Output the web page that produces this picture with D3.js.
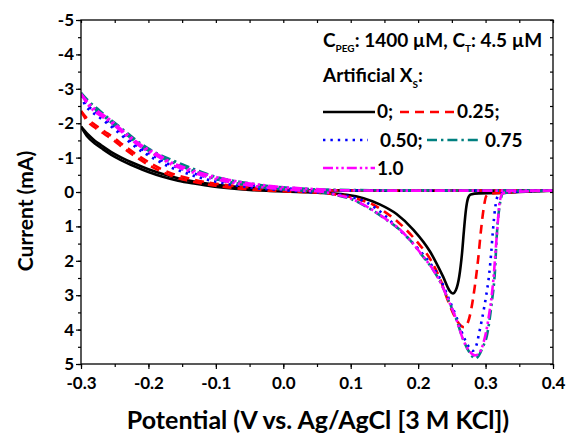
<!DOCTYPE html>
<html><head><meta charset="utf-8">
<script src="https://cdn.jsdelivr.net/npm/d3@7"></script>
<style>
body{margin:0;background:#fff;}
svg{display:block;font-family:Lato,"Open Sans",sans-serif;font-weight:700;}
</style></head>
<body><svg id="c" width="567" height="435"></svg>
<script>
// ---- data: potential (V) vs current (mA) ----
const xTicks = [-0.3,-0.2,-0.1,0.0,0.1,0.2,0.3,0.4];
const yTicks = [-5,-4,-3,-2,-1,0,1,2,3,4,5];
const seriesLabels = ["0;","0.25;","0.50;","0.75","1.0"];
const seriesColors = ["#000000","#ff0000","#0000ff","#008080","#ff00ff"];

const xs0Forward = [[-0.3,-1.90],[-0.29,-1.60],[-0.28,-1.42],[-0.27,-1.28],[-0.255,-1.08],[-0.24,-0.92],[-0.22,-0.74],[-0.2,-0.58],[-0.18,-0.45],[-0.156,-0.33],[-0.13,-0.24],[-0.107,-0.17],[-0.08,-0.11],[-0.05,-0.06],[-0.02,-0.03],[0.02,0.0],[0.05,0.02],[0.07,0.04],[0.094,0.08],[0.119,0.18],[0.143,0.36],[0.168,0.64],[0.193,1.1],[0.2176,1.73],[0.237,2.46],[0.247,2.88],[0.2515,2.95],[0.256,2.85],[0.261,2.45],[0.265,1.8],[0.268,1.1],[0.271,0.5],[0.274,0.18],[0.278,0.07],[0.29,0.04],[0.32,0.03],[0.35,0.0],[0.4,-0.04]];
const xs0Return = [[-0.3,-1.90],[-0.29,-1.68],[-0.28,-1.50],[-0.27,-1.36],[-0.255,-1.16],[-0.24,-1.00],[-0.22,-0.82],[-0.2,-0.66],[-0.18,-0.53],[-0.156,-0.40],[-0.13,-0.30],[-0.107,-0.23],[-0.08,-0.17],[-0.05,-0.12],[-0.02,-0.08],[0.02,-0.06],[0.06,-0.05],[0.15,-0.04],[0.25,-0.04],[0.4,-0.04]];

const xs25Forward = [[-0.3,-2.35],[-0.29,-2.04],[-0.28,-1.88],[-0.265,-1.68],[-0.25,-1.48],[-0.2377,-1.29],[-0.22,-1.04],[-0.2,-0.79],[-0.18,-0.59],[-0.166,-0.47],[-0.145,-0.35],[-0.1265,-0.27],[-0.1,-0.18],[-0.07,-0.11],[-0.04,-0.06],[0,-0.02],[0.04,0.01],[0.08,0.08],[0.11,0.2],[0.1335,0.37],[0.15,0.57],[0.17,0.87],[0.198,1.44],[0.22,2.02],[0.232,2.5],[0.245,3.2],[0.255,3.65],[0.263,3.88],[0.268,3.93],[0.274,3.78],[0.279,3.38],[0.284,2.75],[0.289,1.95],[0.293,1.15],[0.297,0.5],[0.301,0.12],[0.306,0.05],[0.33,0.02],[0.36,-0.02],[0.4,-0.04]];
const xs25Return = [[-0.3,-2.35],[-0.29,-2.12],[-0.28,-1.96],[-0.265,-1.76],[-0.25,-1.56],[-0.2377,-1.37],[-0.22,-1.12],[-0.2,-0.87],[-0.18,-0.66],[-0.166,-0.54],[-0.145,-0.42],[-0.1265,-0.33],[-0.1,-0.24],[-0.07,-0.17],[-0.04,-0.12],[0,-0.08],[0.05,-0.05],[0.15,-0.04],[0.4,-0.04]];

const xs50Forward = [[-0.3,-2.82],[-0.2945,-2.55],[-0.285,-2.35],[-0.272,-2.16],[-0.25,-1.82],[-0.23,-1.48],[-0.2106,-1.19],[-0.19,-0.95],[-0.171,-0.75],[-0.15,-0.59],[-0.131,-0.46],[-0.1,-0.30],[-0.07,-0.19],[-0.04,-0.11],[0,-0.05],[0.04,0.0],[0.07,0.04],[0.1,0.14],[0.125,0.32],[0.148,0.64],[0.168,1.02],[0.188,1.40],[0.205,1.76],[0.2225,2.2],[0.235,2.62],[0.245,3.08],[0.257,3.65],[0.267,4.18],[0.2745,4.48],[0.281,4.62],[0.286,4.48],[0.291,4.05],[0.2966,3.5],[0.301,3.0],[0.305,2.45],[0.308,1.85],[0.311,1.1],[0.314,0.5],[0.318,0.12],[0.324,0.03],[0.36,-0.02],[0.4,-0.04]];
const xs50Return = [[-0.3,-2.82],[-0.2945,-2.62],[-0.285,-2.42],[-0.272,-2.23],[-0.25,-1.89],[-0.23,-1.55],[-0.2106,-1.26],[-0.19,-1.02],[-0.171,-0.82],[-0.15,-0.66],[-0.131,-0.53],[-0.1,-0.37],[-0.07,-0.26],[-0.04,-0.18],[0,-0.11],[0.05,-0.06],[0.15,-0.04],[0.4,-0.04]];

const xs75Forward = [[-0.3,-2.88],[-0.2896,-2.60],[-0.275,-2.35],[-0.26,-2.10],[-0.245,-1.87],[-0.23,-1.63],[-0.21,-1.33],[-0.186,-1.05],[-0.165,-0.87],[-0.146,-0.71],[-0.125,-0.55],[-0.107,-0.42],[-0.08,-0.29],[-0.05,-0.19],[-0.02,-0.11],[0.02,-0.05],[0.05,-0.01],[0.079,0.09],[0.1,0.2],[0.119,0.38],[0.136,0.58],[0.153,0.81],[0.173,1.10],[0.188,1.40],[0.205,1.82],[0.2225,2.27],[0.235,2.7],[0.245,3.15],[0.257,3.72],[0.267,4.3],[0.277,4.69],[0.2843,4.84],[0.29,4.75],[0.296,4.5],[0.3017,4.2],[0.309,3.24],[0.314,2.27],[0.3165,1.3],[0.3214,0.33],[0.326,0.04],[0.34,0.0],[0.4,-0.04]];
const xs75Return = [[-0.3,-2.88],[-0.2896,-2.66],[-0.275,-2.41],[-0.26,-2.16],[-0.245,-1.93],[-0.23,-1.69],[-0.21,-1.39],[-0.186,-1.11],[-0.165,-0.93],[-0.146,-0.77],[-0.125,-0.61],[-0.107,-0.48],[-0.08,-0.35],[-0.05,-0.25],[-0.02,-0.17],[0.02,-0.11],[0.06,-0.07],[0.15,-0.05],[0.4,-0.04]];

const xs100Forward = [[-0.3,-2.85],[-0.29,-2.55],[-0.255,-2.01],[-0.23,-1.59],[-0.2056,-1.24],[-0.185,-1.02],[-0.166,-0.80],[-0.14,-0.61],[-0.1166,-0.46],[-0.09,-0.33],[-0.06,-0.22],[-0.03,-0.14],[0,-0.08],[0.03,-0.04],[0.06,0.0],[0.079,0.08],[0.1,0.19],[0.119,0.37],[0.136,0.57],[0.153,0.80],[0.173,1.09],[0.188,1.40],[0.2077,1.88],[0.2225,2.27],[0.235,2.7],[0.245,3.15],[0.257,3.72],[0.267,4.3],[0.277,4.65],[0.284,4.75],[0.29,4.7],[0.2966,4.4],[0.304,3.72],[0.3115,2.56],[0.3165,1.3],[0.3214,0.23],[0.326,0.03],[0.34,0.0],[0.4,-0.04]];
const xs100Return = [[-0.3,-2.85],[-0.29,-2.61],[-0.255,-2.07],[-0.23,-1.65],[-0.2056,-1.30],[-0.185,-1.08],[-0.166,-0.86],[-0.14,-0.67],[-0.1166,-0.52],[-0.09,-0.39],[-0.06,-0.28],[-0.03,-0.20],[0,-0.14],[0.025,-0.11],[0.06,-0.07],[0.084,-0.05],[0.15,-0.04],[0.4,-0.04]];

const dashes = [null,"9,6","2.4,5","10,4,2.4,4","10,3,2.4,3,2.4,3"];
const seriesData = [
  [xs0Forward, xs0Return],[xs25Forward, xs25Return],[xs50Forward, xs50Return],
  [xs75Forward, xs75Return],[xs100Forward, xs100Return]];

// ---- layout ----
const L=81, T=20, R=553, B=364;
const svg = d3.select("#c");
const x = d3.scaleLinear().domain([-0.3,0.4]).range([L,R]);
const y = d3.scaleLinear().domain([-5,5]).range([T,B]);
const fmtY = d => String(d).replace("\u2212","-");
const fmtX = d => d3.format(".1f")(d).replace("\u2212","-");

svg.append("clipPath").attr("id","clip").append("rect").attr("x",L).attr("y",T).attr("width",R-L).attr("height",B-T);

const line = d3.line().x(d=>x(d[0])).y(d=>y(d[1])).curve(d3.curveMonotoneX);
const g = svg.append("g").attr("clip-path","url(#clip)");
seriesData.forEach((pair,i)=>{
  pair.forEach(arr=>{
    g.append("path").attr("d",line(arr)).attr("fill","none")
     .attr("stroke",seriesColors[i]).attr("stroke-width",2.6)
     .attr("stroke-dasharray",dashes[i]);
  });
});

// axes
const minorX = d3.range(-0.3,0.4001,0.05).map(v=>+v.toFixed(2));
const minorY = d3.range(-5,5.001,0.5).map(v=>+v.toFixed(1));
const axB = svg.append("g").attr("transform",`translate(0,${B})`)
  .call(d3.axisBottom(x).tickValues(xTicks).tickFormat(fmtX).tickSize(5).tickPadding(8));
const axBm = svg.append("g").attr("transform",`translate(0,${B})`)
  .call(d3.axisBottom(x).tickValues(minorX).tickFormat("").tickSize(3));
const axL = svg.append("g").attr("transform",`translate(${L},0)`)
  .call(d3.axisLeft(y).tickValues(yTicks).tickFormat(fmtY).tickSize(5).tickPadding(2));
const axLm = svg.append("g").attr("transform",`translate(${L},0)`)
  .call(d3.axisLeft(y).tickValues(minorY).tickFormat("").tickSize(3));
const axT = svg.append("g").attr("transform",`translate(0,${T})`)
  .call(d3.axisBottom(x).tickValues(minorX).tickFormat("").tickSize(3));
const axR = svg.append("g").attr("transform",`translate(${R},0)`)
  .call(d3.axisLeft(y).tickValues(minorY).tickFormat("").tickSize(3));
[axB,axBm,axL,axLm,axT,axR].forEach(a=>{
  a.selectAll("path").remove();
  a.selectAll("line").attr("stroke","#000").attr("stroke-width",1.2);
  a.selectAll("text").attr("fill","#000").style("font-size","17px").style("font-family","Lato,sans-serif").style("font-weight","700");
});
svg.append("rect").attr("x",L).attr("y",T).attr("width",R-L).attr("height",B-T)
  .attr("fill","none").attr("stroke","#000").attr("stroke-width",1.3);

// titles
svg.append("text").attr("x",318).attr("y",429).attr("text-anchor","middle")
  .style("font-size","25px").text("Potential (V vs. Ag/AgCl [3 M KCl])");
svg.append("text").attr("transform",`translate(33,211) rotate(-90)`).attr("text-anchor","middle")
  .style("font-size","21px").text("Current (mA)");

// legend
const lg = svg.append("g").style("font-size","19px");
const t1 = lg.append("text").attr("x",323).attr("y",47);
t1.append("tspan").text("C");
t1.append("tspan").attr("dy",5).style("font-size","10px").text("PEG");
t1.append("tspan").attr("dy",-5).text(": 1400 \u00b5M, C");
t1.append("tspan").attr("dy",5).style("font-size","10px").text("T");
t1.append("tspan").attr("dy",-5).text(": 4.5 \u00b5M");
const t2 = lg.append("text").attr("x",323).attr("y",82);
t2.append("tspan").text("Artificial X");
t2.append("tspan").attr("dy",6).style("font-size","10px").text("S");
t2.append("tspan").attr("dy",-6).text(":");

const legItems = [
  {i:0,x1:323,x2:375,ly:112,tx:377,ty:118},
  {i:1,x1:400,x2:455,ly:112,tx:457,ty:118},
  {i:2,x1:323,x2:368,ly:140,tx:380,ty:147},
  {i:3,x1:427,x2:479,ly:140,tx:485,ty:147},
  {i:4,x1:323,x2:375,ly:168,tx:377,ty:175}];
legItems.forEach(it=>{
  lg.append("line").attr("x1",it.x1).attr("x2",it.x2).attr("y1",it.ly).attr("y2",it.ly)
    .attr("stroke",seriesColors[it.i]).attr("stroke-width",2.6).attr("stroke-dasharray",dashes[it.i]);
  lg.append("text").attr("x",it.tx).attr("y",it.ty).text(seriesLabels[it.i]);
});
</script></body></html>
